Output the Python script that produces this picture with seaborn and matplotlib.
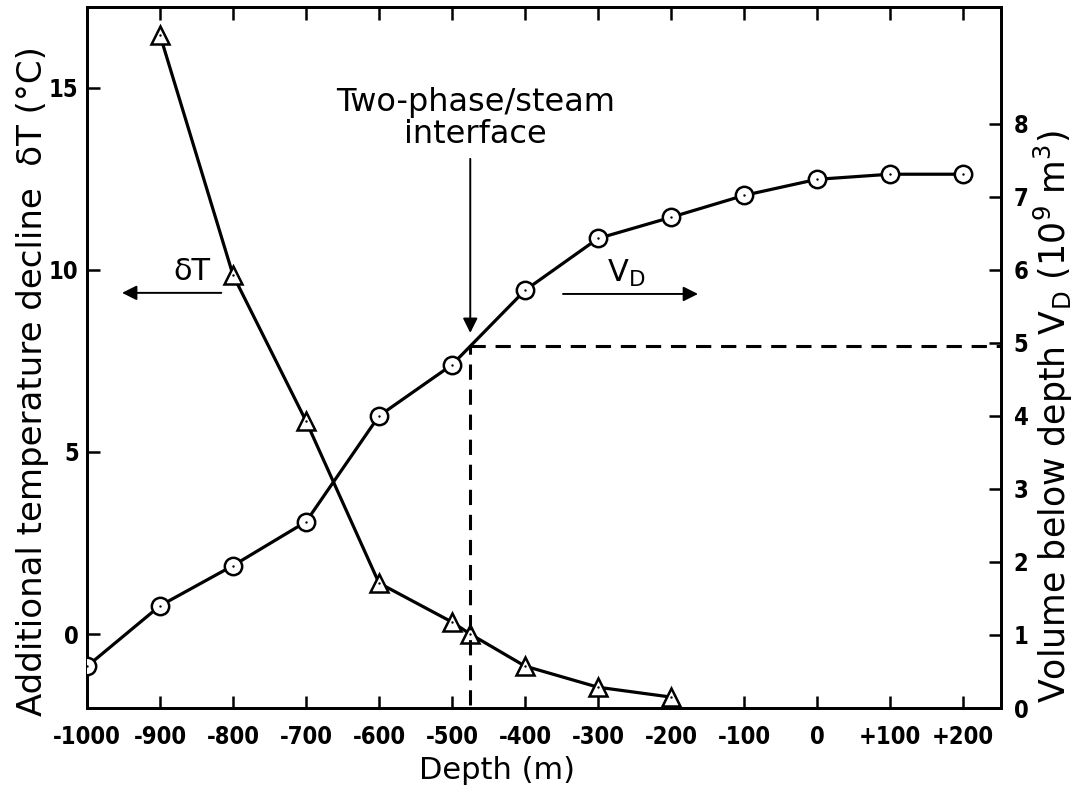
import numpy as np
import pandas as pd
import matplotlib
matplotlib.use("Agg")
import matplotlib.pyplot as plt
from matplotlib import font_manager
from matplotlib.font_manager import FontProperties
import seaborn as sns

# Additional temperature decline dT (deg C) against depth (triangles)
dt_depth = [-900, -800, -700, -600, -500, -475, -400, -300, -200]
dt_value = [16.45, 9.86, 5.85, 1.40, 0.33, 0.0, -0.88, -1.46, -1.73]

# Volume below depth V_D (10^9 m^3) against depth (circles)
vd_depth = [-1000, -900, -800, -700, -600, -500, -400, -300, -200, -100, 0, 100, 200]
vd_value = [0.57, 1.40, 1.95, 2.55, 4.00, 4.70, 5.72, 6.43, 6.72, 7.02, 7.24, 7.31, 7.31]

# Depth of the two-phase / steam interface
interface_depth = -475

x_ticks = [-1000, -900, -800, -700, -600, -500, -400, -300, -200, -100, 0, 100, 200]
x_tick_labels = ["-1000", "-900", "-800", "-700", "-600", "-500", "-400",
                 "-300", "-200", "-100", "0", "+100", "+200"]
dt_ticks = [0, 5, 10, 15]
vd_ticks = [0, 1, 2, 3, 4, 5, 6, 7, 8]

sns.set_theme(style="ticks")
plt.rcParams["font.family"] = ["DejaVu Sans"]
plt.rcParams["mathtext.fontset"] = "dejavusans"
plt.rcParams["text.color"] = "black"
plt.rcParams["axes.labelcolor"] = "black"

# Narrow face for the tick numbers when one is installed
names = {f.name for f in font_manager.fontManager.ttflist}
if "Liberation Sans Narrow" in names:
    tick_fp = FontProperties(family="Liberation Sans Narrow", weight="bold", size=21)
    ytick_fp = FontProperties(family="Liberation Sans Narrow", weight="bold", size=19)
else:
    tick_fp = FontProperties(family="DejaVu Sans", stretch="condensed", weight="bold", size=17)
    ytick_fp = FontProperties(family="DejaVu Sans", stretch="condensed", weight="bold", size=17)

fig = plt.figure(figsize=(10.92, 8), dpi=100)
ax = fig.add_axes([87 / 1092, 1 - 708 / 800, (1001 - 87) / 1092, (708 - 7) / 800])
ax2 = ax.twinx()

dt_df = pd.DataFrame({"depth": dt_depth, "dT": dt_value})
vd_df = pd.DataFrame({"depth": vd_depth, "VD": vd_value})

line_kw = dict(color="black", linewidth=2.3, markerfacecolor="white",
               markeredgecolor="black", markeredgewidth=1.8)

sns.lineplot(data=dt_df, x="depth", y="dT", ax=ax, marker="^", markersize=13.5,
             zorder=3, **line_kw)
sns.scatterplot(data=dt_df, x="depth", y="dT", ax=ax, marker="o", s=3,
                color="black", linewidth=0, zorder=4)

sns.lineplot(data=vd_df, x="depth", y="VD", ax=ax2, marker="o", markersize=12.5,
             zorder=3, **line_kw)
sns.scatterplot(data=vd_df, x="depth", y="VD", ax=ax2, marker="o", s=3,
                color="black", linewidth=0, zorder=4)

# Dashed guide from the interface depth down to the axis and across to the V_D scale
interface_volume = float(np.interp(interface_depth, vd_depth, vd_value))
x_max = 252
ax2.hlines(interface_volume, interface_depth, x_max, colors="black",
           linestyles=(0, (5, 3.2)), linewidth=2.2, zorder=2)
ax2.vlines(interface_depth, 0.04, interface_volume, colors="black",
           linestyles=(0, (5, 3.2)), linewidth=2.2, zorder=2)

ax.set_xlim(-1000, x_max)
ax.set_ylim(-2.03, 17.22)
ax2.set_ylim(0.04, 9.6)

ax.set_xticks(x_ticks)
ax.set_xticklabels(x_tick_labels, fontproperties=tick_fp)
ax.set_yticks(dt_ticks)
ax.set_yticklabels([str(t) for t in dt_ticks], fontproperties=ytick_fp)
ax2.set_yticks(vd_ticks)
ax2.set_yticklabels([str(t) for t in vd_ticks], fontproperties=ytick_fp)

ax.tick_params(axis="x", direction="in", length=9, width=1.8, top=True,
               bottom=True, pad=12, colors="black")
ax.tick_params(axis="y", direction="in", length=9, width=1.8, left=True,
               right=False, pad=6, colors="black")
ax2.tick_params(axis="y", direction="in", length=9, width=1.8, right=True,
                left=False, pad=9, colors="black")

for a in (ax, ax2):
    for s in a.spines.values():
        s.set_linewidth(2.0)
        s.set_color("black")

ax.set_xlabel("Depth (m)", fontsize=22)
ax.xaxis.set_label_coords(0.449, -0.068)
ax.set_ylabel("Additional temperature decline  δT (°C)", fontsize=24.5)
ax.yaxis.set_label_coords(-0.042, 0.466)
ax2.set_ylabel(r"Volume below depth V$_\mathrm{D}$ (10$^9$ m$^3$)", fontsize=25)
ax2.yaxis.set_label_coords(1.034, 0.415)

# Curve labels with direction arrows pointing at their axes
ax.text(-856, 9.95, "δT", fontsize=22, ha="center", va="center")
ax.annotate("", xy=(-952, 9.37), xytext=(-816, 9.37),
            arrowprops=dict(arrowstyle="-|>", color="black", lw=1.4,
                            mutation_scale=22, shrinkA=0, shrinkB=0))
ax.text(-262, 9.9, r"V$_\mathrm{D}$", fontsize=22, ha="center", va="center")
ax.annotate("", xy=(-163, 9.34), xytext=(-348, 9.34),
            arrowprops=dict(arrowstyle="-|>", color="black", lw=1.4,
                            mutation_scale=22, shrinkA=0, shrinkB=0))

ax.text(-468, 14.16, "Two-phase/steam\ninterface", fontsize=23, ha="center",
        va="center", linespacing=1.05)
ax.annotate("", xy=(interface_depth, 8.27), xytext=(interface_depth, 13.05),
            arrowprops=dict(arrowstyle="-|>", color="black", lw=1.4,
                            mutation_scale=22, shrinkA=0, shrinkB=0))

fig.savefig("out.png", dpi=100, facecolor="white")
